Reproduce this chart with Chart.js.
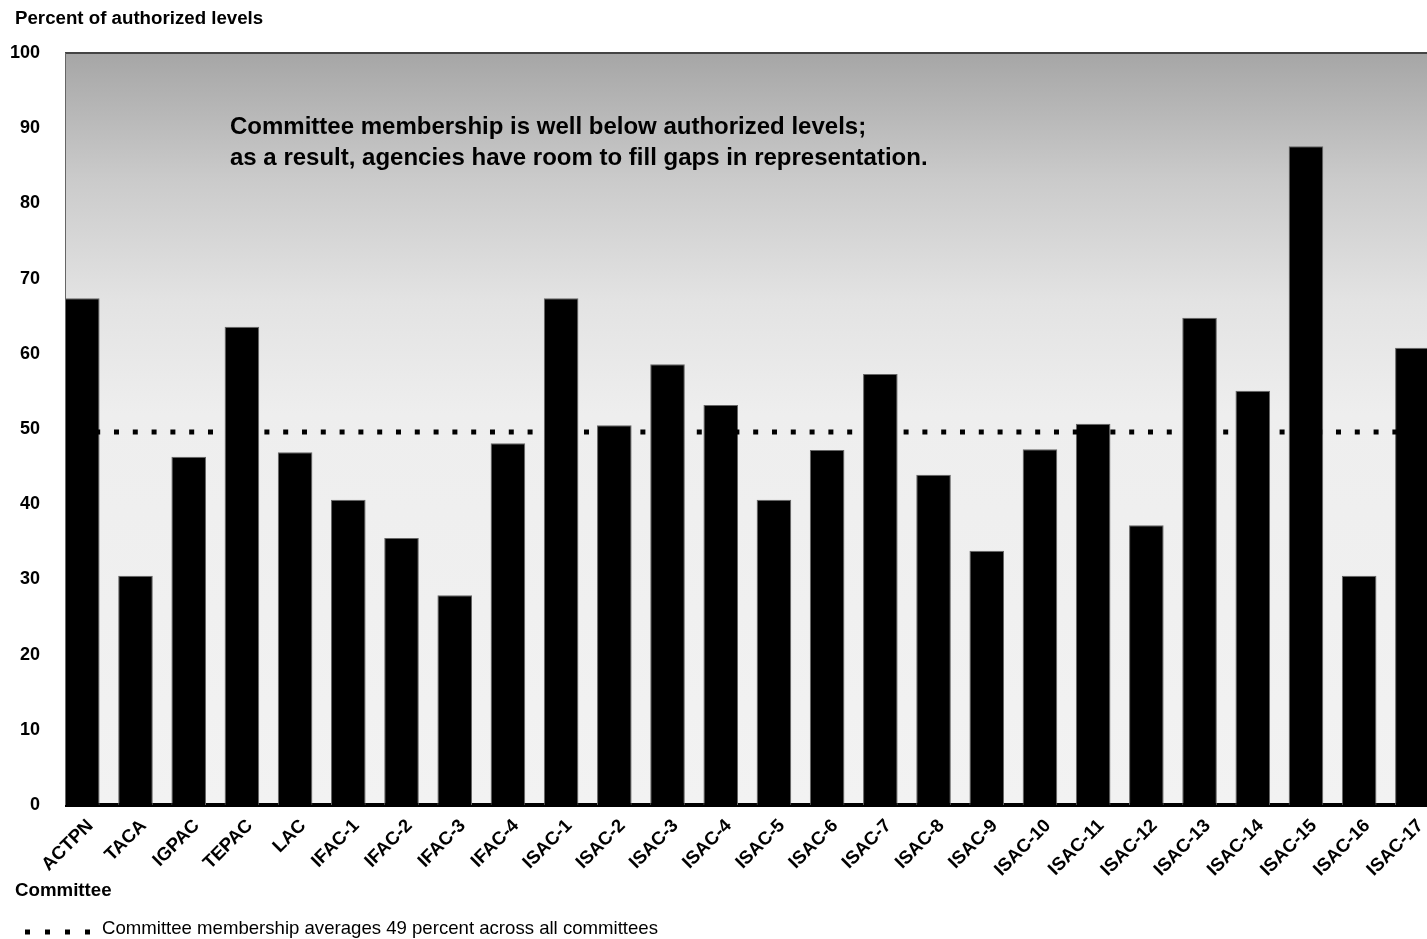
<!DOCTYPE html>
<html>
<head>
  <title>Committee Membership Chart</title>
  <script src="https://cdn.jsdelivr.net/npm/chart.js"></script>
  <style>
    body { margin: 0; background: #fff; }
    #wrap { width: 1427px; height: 939px; position: relative; }
  </style>
</head>
<body>
  <div id="wrap"><canvas id="membership-chart"></canvas></div>
  <script>
    const committees = ['ACTPN', 'TACA', 'IGPAC', 'TEPAC', 'LAC', 'IFAC-1', 'IFAC-2', 'IFAC-3', 'IFAC-4',
      'ISAC-1', 'ISAC-2', 'ISAC-3', 'ISAC-4', 'ISAC-5', 'ISAC-6', 'ISAC-7', 'ISAC-8', 'ISAC-9', 'ISAC-10',
      'ISAC-11', 'ISAC-12', 'ISAC-13', 'ISAC-14', 'ISAC-15', 'ISAC-16', 'ISAC-17'];
    const percentOfAuthorized = [67.4, 30.5, 46.3, 63.6, 46.9, 40.6, 35.5, 27.9, 48.1,
      67.4, 50.5, 58.6, 53.2, 40.6, 47.2, 57.3, 43.9, 33.8, 47.3,
      50.7, 37.2, 64.8, 55.1, 87.6, 30.5, 60.8];
    const averageMembership = 49.6;
    const yTicks = [0, 10, 20, 30, 40, 50, 60, 70, 80, 90, 100];

    const FONT = "'Liberation Sans', Arial, Helvetica, sans-serif";
    const barPct = 0.65;

    // background gradient, frame and the loose text
    const decor = {
      id: 'decor',
      beforeDatasetsDraw(chart) {
        const { ctx, chartArea: a } = chart;
        const g = ctx.createLinearGradient(0, a.top, 0, a.bottom);
        g.addColorStop(0, '#a6a6a6');
        g.addColorStop(0.17, '#cbcbcb');
        g.addColorStop(0.33, '#e3e3e3');
        g.addColorStop(0.48, '#eeeeee');
        g.addColorStop(1, '#f2f2f2');
        ctx.save();
        ctx.fillStyle = g;
        ctx.fillRect(a.left, a.top, a.right - a.left, a.bottom - a.top);
        ctx.strokeStyle = '#444';
        ctx.lineWidth = 2;
        ctx.beginPath();
        ctx.moveTo(a.left, a.top);
        ctx.lineTo(a.right, a.top);
        ctx.stroke();
        ctx.strokeStyle = '#666';
        ctx.lineWidth = 1;
        ctx.beginPath();
        ctx.moveTo(a.left + 0.5, a.top);
        ctx.lineTo(a.left + 0.5, a.bottom);
        ctx.stroke();
        // x axis base
        ctx.strokeStyle = '#000';
        ctx.lineWidth = 4;
        ctx.beginPath();
        ctx.moveTo(a.left, a.bottom);
        ctx.lineTo(a.right, a.bottom);
        ctx.stroke();
        ctx.restore();
      },
      afterDraw(chart) {
        const { ctx } = chart;
        ctx.save();
        ctx.fillStyle = '#000';
        ctx.textBaseline = 'middle';
        ctx.textAlign = 'left';
        ctx.font = 'bold 18.7px ' + FONT;
        ctx.fillText('Percent of authorized levels', 15, 19);
        ctx.fillText('Committee', 15, 891);

        ctx.font = 'bold 24px ' + FONT;
        ctx.fillText('Committee membership is well below authorized levels;', 230, 127);
        ctx.fillText('as a result, agencies have room to fill gaps in representation.', 230, 158);

        // legend
        ctx.strokeStyle = '#000';
        ctx.lineWidth = 5;
        ctx.setLineDash([5, 15]);
        ctx.beginPath();
        ctx.moveTo(25, 932);
        ctx.lineTo(90, 932);
        ctx.stroke();
        ctx.setLineDash([]);
        ctx.font = '18.6px ' + FONT;
        ctx.fillText('Committee membership averages 49 percent across all committees', 102, 929);
        ctx.restore();
      }
    };

    const ctx = document.getElementById('membership-chart').getContext('2d');
    const membershipChart = new Chart(ctx, {
      type: 'bar',
      data: {
        datasets: [{
          type: 'line',
          label: 'Average',
          data: committees.map((c, i) => ({ x: i, y: averageMembership })),
          borderColor: '#000',
          borderWidth: 5,
          borderDash: [5, 13.8],
          borderDashOffset: 5.9,
          borderCapStyle: 'butt',
          pointRadius: 0,
          order: 0
        }, {
          label: 'Percent of authorized levels',
          data: percentOfAuthorized.map((v, i) => ({ x: i, y: v })),
          backgroundColor: '#000',
          borderColor: '#666',
          borderWidth: 1,
          barPercentage: barPct,
          categoryPercentage: 1,
          order: 1
        }]
      },
      options: {
        responsive: true,
        maintainAspectRatio: false,
        animation: false,
        layout: { padding: { top: 53, left: 0, right: 0, bottom: 0 } },
        plugins: {
          legend: { display: false },
          tooltip: { enabled: false }
        },
        scales: {
          x: {
            type: 'linear',
            offset: false,
            min: -barPct / 2,
            max: 25.275,
            grid: { display: false, drawTicks: false, offset: false },
            border: { display: false },
            afterBuildTicks: s => { s.ticks = committees.map((c, i) => ({ value: i })); },
            afterFit: s => { s.paddingLeft = 0; s.paddingRight = 0; s.height = 134; },
            ticks: {
              autoSkip: false,
              maxRotation: 45,
              minRotation: 45,
              padding: 10,
              labelOffset: 8,
              color: '#000',
              font: { family: FONT, size: 18.5, weight: 'bold' },
              callback: v => committees[v]
            }
          },
          y: {
            min: 0,
            max: 100,
            grid: { display: false, drawTicks: false },
            border: { display: false },
            afterBuildTicks: s => { s.ticks = yTicks.map(v => ({ value: v })); },
            afterFit: s => { s.width = 65; s.paddingTop = 0; s.paddingBottom = 0; },
            ticks: {
              padding: 25,
              color: '#000',
              font: { family: FONT, size: 18, weight: 'bold' }
            }
          }
        }
      },
      plugins: [decor]
    });
  </script>
</body>
</html>
